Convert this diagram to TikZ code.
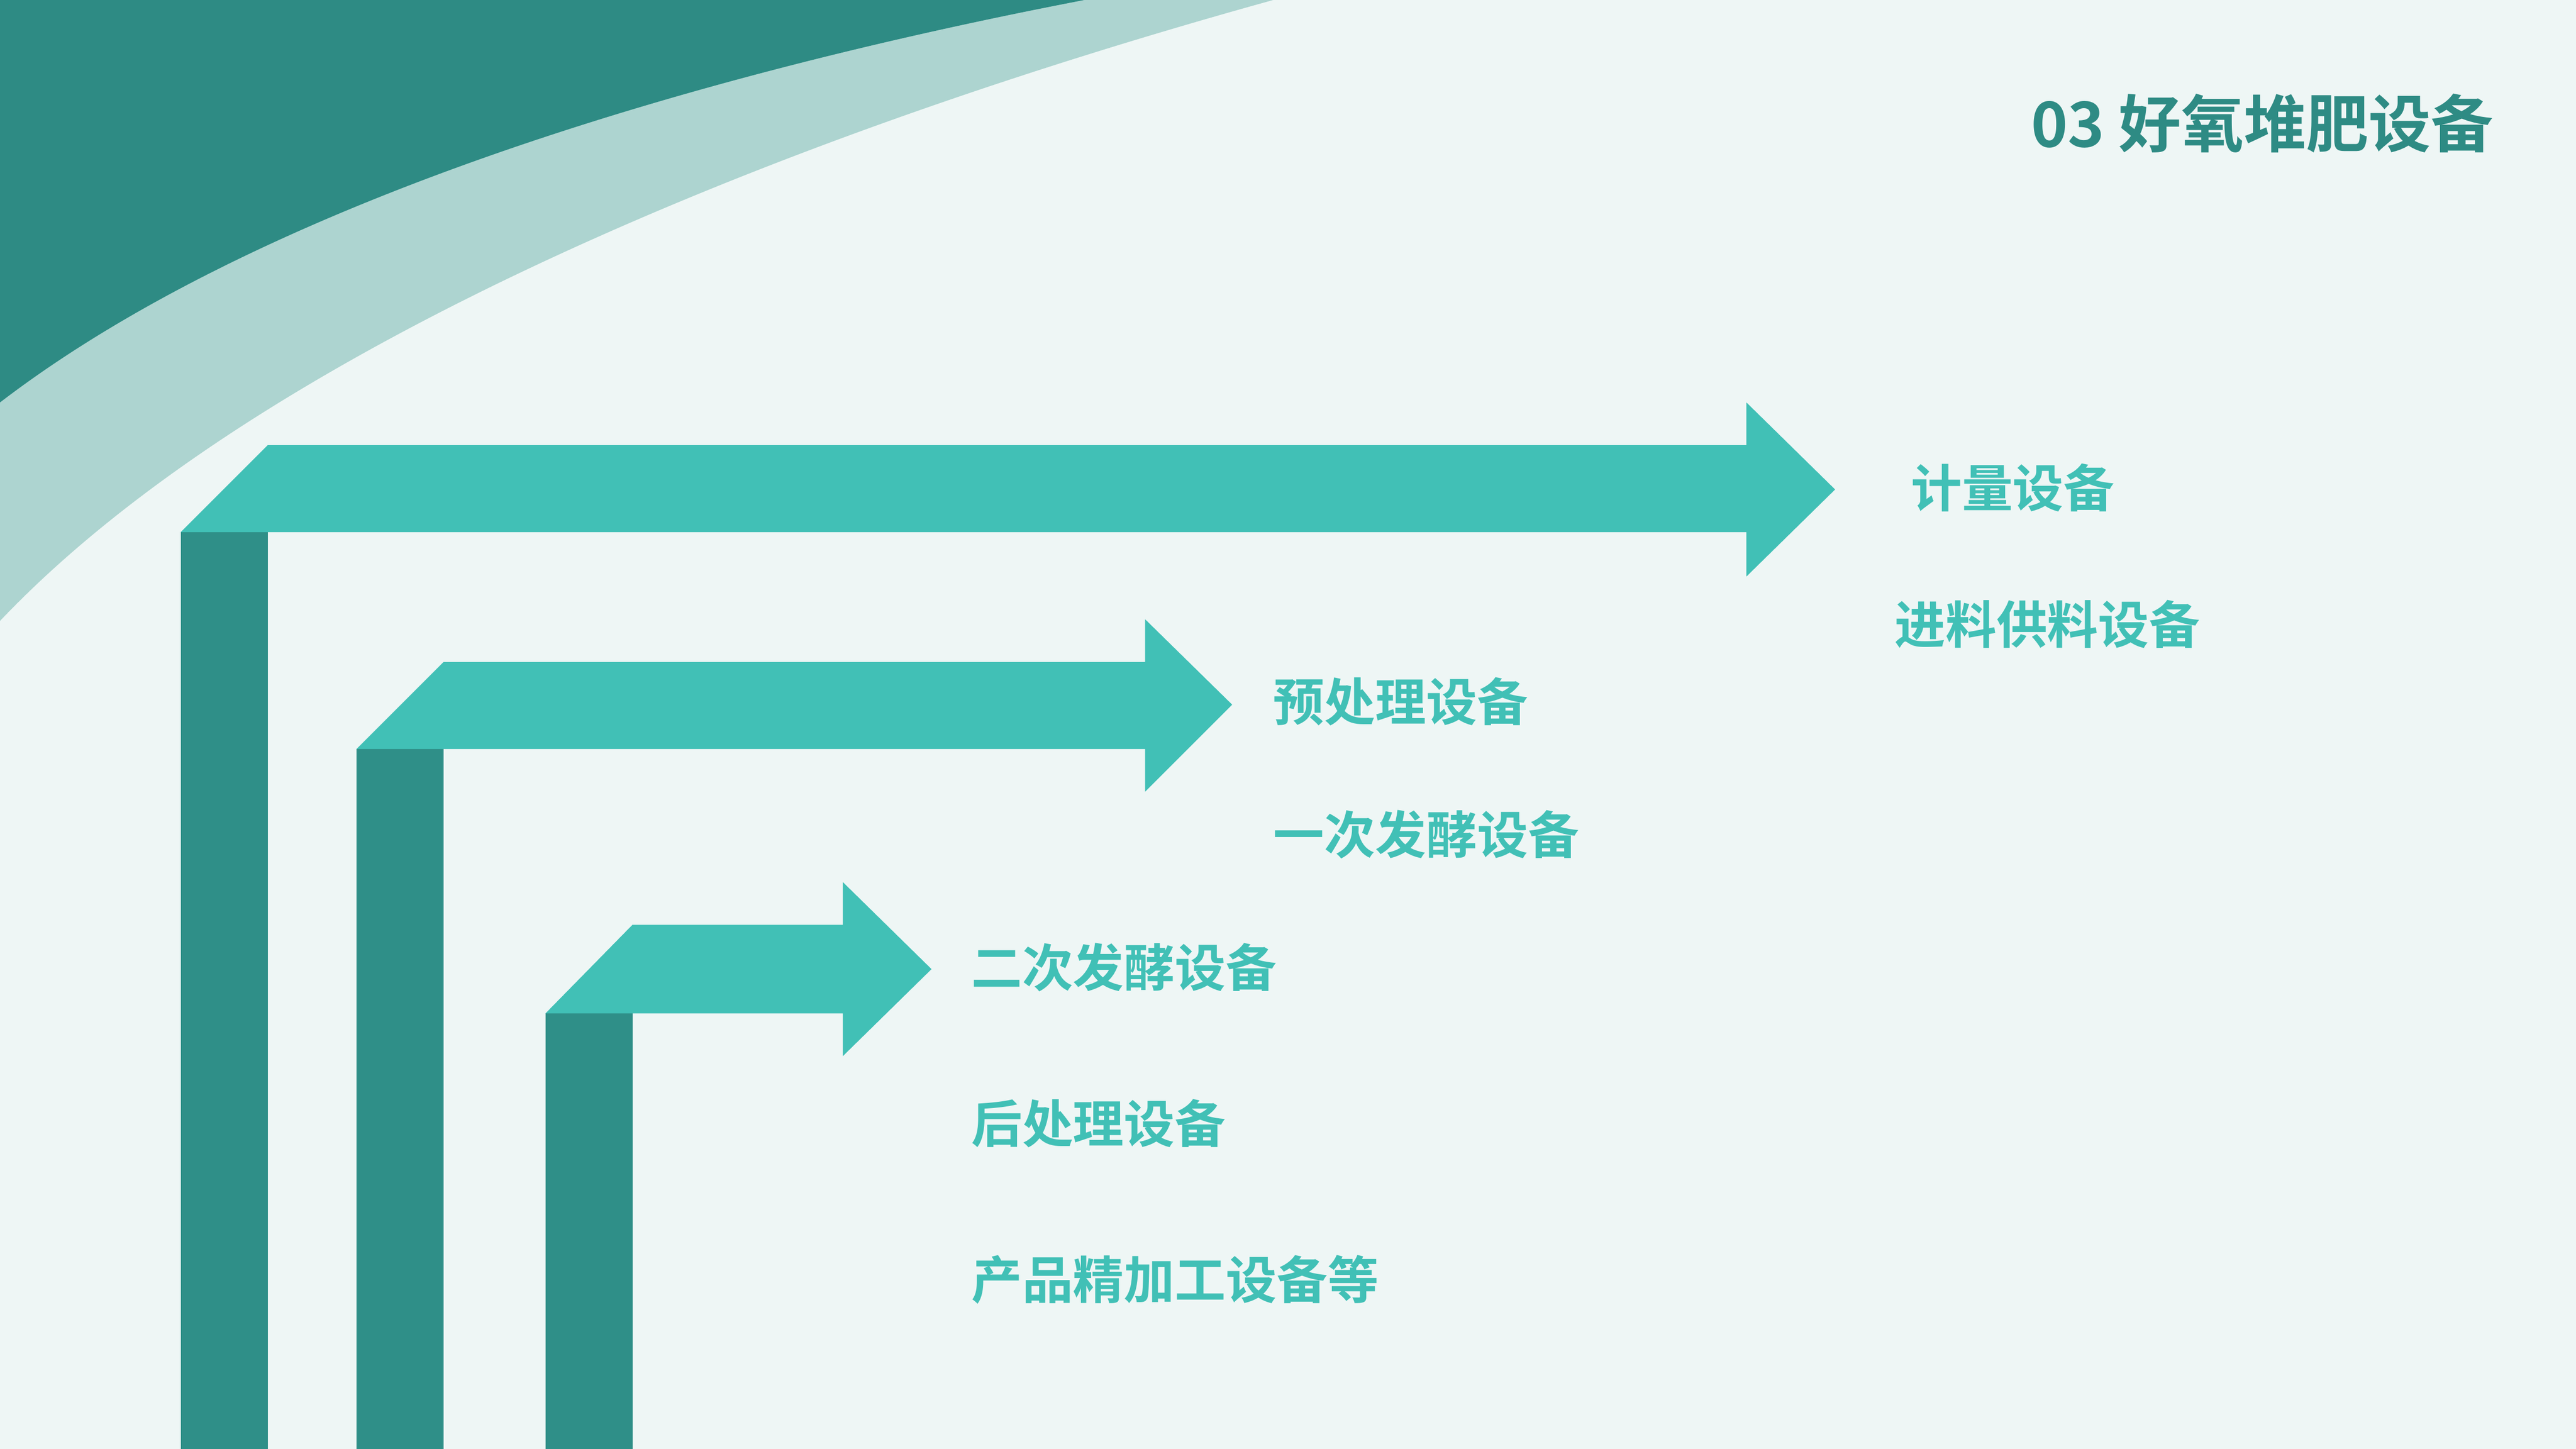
\documentclass[tikz,border=0pt]{standalone}
\usepackage{fontspec}
\newfontfamily\cjk{Noto Sans CJK SC Bold}
\definecolor{bg}{HTML}{EEF6F5}
\definecolor{dark}{HTML}{2E8B84}
\definecolor{pale}{HTML}{ADD4D0}
\definecolor{arr}{HTML}{41C0B6}
\definecolor{bar}{HTML}{2F8F88}
\tikzset{lbl/.style={anchor=west,inner sep=0pt,font=\cjk\fontsize{31}{31}\selectfont,text=arr}}
\begin{document}
\begin{tikzpicture}[x=1pt,y=-1pt]
\fill[bg] (0,0) rectangle (1568,882);
\useasboundingbox (0,0) rectangle (1568,882);
\fill[pale] (0,0) -- (775,0) .. controls (450,90) and (150,220) .. (0,378) -- cycle;
\fill[dark] (0,0) -- (660,0) .. controls (400,50) and (150,130) .. (0,245) -- cycle;
% bars
\fill[bar] (110,324) rectangle (163,882);
\fill[bar] (217,456) rectangle (270,882);
\fill[bar] (332,617) rectangle (385,882);
% arrows
\fill[arr] (110,324) -- (163,271) -- (1063,271) -- (1063,245) -- (1117,298) -- (1063,351) -- (1063,324) -- cycle;
\fill[arr] (217,456) -- (270,403) -- (697,403) -- (697,377) -- (750,429) -- (697,482) -- (697,456) -- cycle;
\fill[arr] (332,617) -- (385,563) -- (513,563) -- (513,537) -- (567,590) -- (513,643) -- (513,617) -- cycle;
\node[anchor=east,inner sep=0pt,font=\cjk\fontsize{38}{38}\selectfont,text=dark] (title) at (1518,75) {03 好氧堆肥设备};
\node[lbl] (t1) at (1163,297) {计量设备};
\node[lbl] (t2) at (1153,380) {进料供料设备};
\node[lbl] (t3) at (775,427) {预处理设备};
\node[lbl] (t4) at (775,508) {一次发酵设备};
\node[lbl] (t5) at (591,589) {二次发酵设备};
\node[lbl] (t6) at (591,684) {后处理设备};
\node[lbl] (t7) at (591,779) {产品精加工设备等};
\end{tikzpicture}
\end{document}
